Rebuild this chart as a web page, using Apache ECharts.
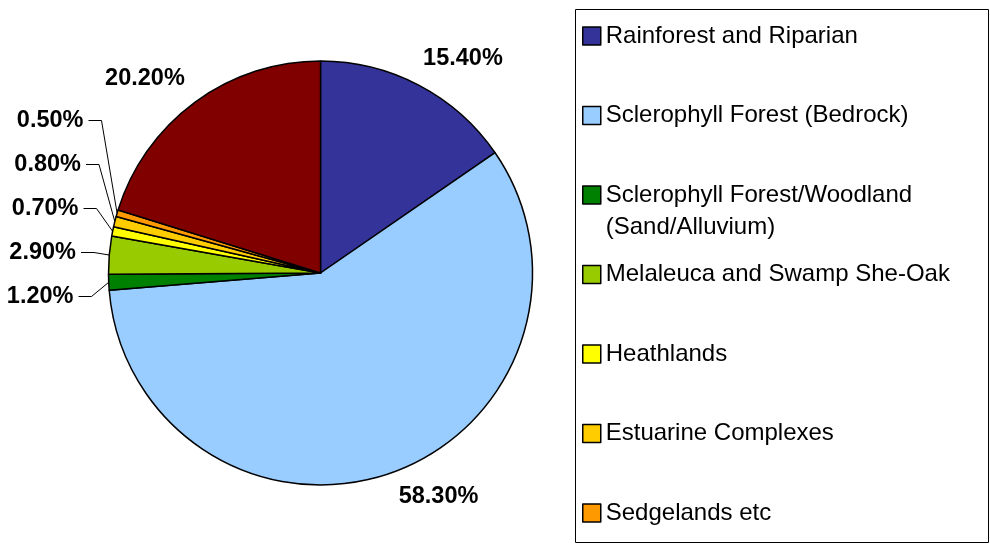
<!DOCTYPE html>
<html>
<head>
<meta charset="utf-8">
<script src="https://cdn.jsdelivr.net/npm/echarts@6/dist/echarts.min.js"></script>
<style>
  html, body { margin: 0; padding: 0; background: #ffffff; }
  #chart { width: 990px; height: 544px; }
</style>
</head>
<body>
<div id="chart"></div>
<script>
// Vegetation communities and their share of the catchment area (%)
const categories = [
  'Rainforest and Riparian',
  'Sclerophyll Forest (Bedrock)',
  'Sclerophyll Forest/Woodland (Sand/Alluvium)',
  'Melaleuca and Swamp She-Oak',
  'Heathlands',
  'Estuarine Complexes',
  'Sedgelands etc',
  'Cleared'
];
const shares = [15.4, 58.3, 1.2, 2.9, 0.7, 0.8, 0.5, 20.2];
const sliceColors = ['#333399', '#99CCFF', '#008000', '#99CC00', '#FFFF00', '#FFCC00', '#FF9900', '#800000'];

// Only the first seven communities fit inside the legend panel
const legendCount = 7;

const FONT = '"Liberation Sans", Arial, sans-serif';
const PIE = { cx: 320.5, cy: 273, r: 212 };

// Point on the rim of the pie at the middle of slice i
function rimPoint(i) {
  let before = 0;
  for (let k = 0; k < i; k++) before += shares[k];
  const total = shares.reduce((a, b) => a + b, 0);
  const theta = 2 * Math.PI * (before + shares[i] / 2) / total;
  return [PIE.cx + PIE.r * Math.sin(theta), PIE.cy - PIE.r * Math.cos(theta)];
}

// Labels of the larger slices sit next to the rim without leader lines
const bigLabelOffset = {
  0: { dx: 4, dy: -27, align: 'left' },
  1: { dx: 7, dy: 24, align: 'left' },
  7: { dx: -10, dy: -24, align: 'right' }
};

// Labels of the small slices are stacked in a column on the left with leader lines
const smallIdx = shares.map((v, i) => (v < 5 ? i : -1)).filter(i => i >= 0);
const smallColumn = { right: 73.5, bottom: 296.5, rowGap: 44, slant: 2.5, gap: 5, run: 13 };

const pieData = categories.map((name, i) => ({
  name: name,
  value: shares[i],
  itemStyle: { color: sliceColors[i] },
  labelLine: { show: smallIdx.indexOf(i) >= 0 }
}));

const chart = echarts.init(document.getElementById('chart'), null, { renderer: 'canvas' });

chart.setOption({
  backgroundColor: '#ffffff',
  animation: false,
  graphic: [{
    type: 'rect',
    z: 0,
    shape: { x: 575.5, y: 9.5, width: 413, height: 533 },
    style: { fill: '#ffffff', stroke: '#000000', lineWidth: 1 }
  }],
  legend: {
    orient: 'vertical',
    left: 582,
    top: -12,
    height: 800,
    padding: 0,
    itemGap: -16.5,
    itemWidth: 18,
    itemHeight: 18,
    icon: 'rect',
    selectedMode: false,
    data: categories.slice(0, legendCount),
    // three text rows per entry: a blank row, the name, and an optional continuation
    formatter: function (name) {
      const cut = name.indexOf(' (');
      if (name.length > 32 && cut > 0) {
        return ' \n' + name.slice(0, cut) + '\n' + name.slice(cut + 1);
      }
      return ' \n' + name + '\n ';
    },
    textStyle: {
      fontFamily: FONT,
      fontSize: 24,
      color: '#000000',
      lineHeight: 32
    },
    itemStyle: { borderColor: '#000000', borderWidth: 1.5 }
  },
  series: [{
    type: 'pie',
    center: [PIE.cx, PIE.cy],
    radius: PIE.r,
    startAngle: 90,
    clockwise: true,
    avoidLabelOverlap: false,
    emphasis: { disabled: true },
    itemStyle: { borderColor: '#000000', borderWidth: 1.5 },
    label: {
      show: true,
      position: 'outside',
      formatter: function (p) { return p.value.toFixed(2) + '%'; },
      fontFamily: FONT,
      fontWeight: 'bold',
      fontSize: 23.5,
      color: '#000000'
    },
    labelLine: {
      show: true,
      length: 10,
      length2: 13,
      smooth: false,
      lineStyle: { color: '#000000', width: 1 }
    },
    labelLayout: function (p) {
      const i = p.dataIndex;
      const rim = rimPoint(i);
      const big = bigLabelOffset[i];
      if (big) {
        return { x: rim[0] + big.dx, y: rim[1] + big.dy, align: big.align, verticalAlign: 'middle' };
      }
      const rank = smallIdx.indexOf(i);
      const x = smallColumn.right + rank * smallColumn.slant;
      const y = smallColumn.bottom - rank * smallColumn.rowGap;
      const lineStart = x + smallColumn.gap;
      return {
        x: x,
        y: y,
        align: 'right',
        verticalAlign: 'middle',
        labelLinePoints: [rim, [lineStart + smallColumn.run, y], [lineStart, y]]
      };
    },
    data: pieData
  }]
});
</script>
</body>
</html>
